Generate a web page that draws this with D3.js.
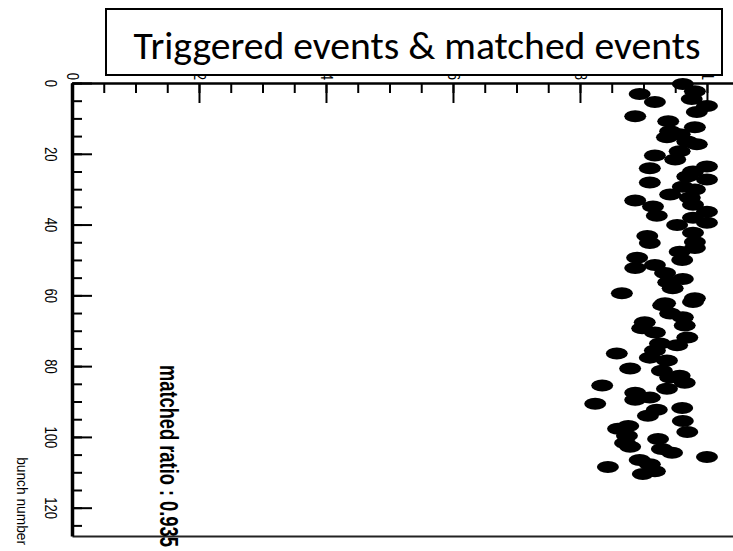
<!DOCTYPE html>
<html>
<head>
<meta charset="utf-8">
<script src="https://cdn.jsdelivr.net/npm/d3@7"></script>
<style>
  body { margin: 0; background: #fff; }
  svg { display: block; }
  .narrow { font-family: "Liberation Sans", Arial, sans-serif; }
</style>
</head>
<body>
<script>
// Bunch number and the matched ratio measured for that bunch
const bunchNumber = [
  0.3, 2.3, 3.1, 4.5, 5.4, 6.5, 8.2, 9.4, 10.8, 12.5,
  13.6, 14.5, 15.3, 16.5, 17.3, 19.3, 20.5, 21.6, 23.6, 24.1,
  25.0, 26.4, 27.3, 28.1, 29.3, 30.1, 31.5, 32.4, 33.2, 34.4,
  34.9, 36.4, 37.5, 38.1, 39.5, 40.1, 42.3, 43.2, 44.9, 45.2,
  46.6, 47.7, 49.4, 50.0, 51.4, 52.3, 53.7, 55.4, 56.3, 58.0,
  59.4, 60.8, 61.9, 62.2, 62.8, 65.1, 66.2, 67.6, 68.5, 69.3,
  70.5, 71.9, 73.6, 74.1, 75.6, 76.4, 77.6, 78.4, 80.7, 81.3,
  82.7, 83.2, 84.7, 85.5, 86.4, 87.5, 88.9, 89.5, 90.6, 91.8,
  92.3, 94.0, 95.5, 96.9, 97.7, 98.6, 99.7, 100.6, 101.7, 102.8,
  103.4, 104.5, 105.7, 106.5, 107.7, 108.5, 109.7, 110.5
];
const matchedRatio = [
  0.962, 0.981, 0.894, 0.976, 0.918, 1.000, 0.984, 0.887, 0.939, 0.981,
  0.942, 0.957, 0.937, 0.969, 0.984, 0.957, 0.918, 0.950, 1.000, 0.910,
  0.978, 0.969, 1.000, 0.910, 0.962, 0.981, 0.942, 0.973, 0.887, 0.978,
  0.915, 1.000, 0.921, 0.978, 1.000, 0.953, 0.978, 0.906, 0.981, 0.910,
  0.981, 0.957, 0.890, 0.961, 0.918, 0.887, 0.934, 0.962, 0.939, 0.946,
  0.866, 0.981, 0.978, 0.934, 0.931, 0.942, 0.962, 0.902, 0.965, 0.898,
  0.918, 0.969, 0.926, 0.953, 0.918, 0.858, 0.910, 0.937, 0.879, 0.929,
  0.957, 0.942, 0.965, 0.835, 0.937, 0.887, 0.910, 0.887, 0.824, 0.961,
  0.921, 0.907, 0.962, 0.876, 0.860, 0.969, 0.874, 0.923, 0.871, 0.879,
  0.929, 0.945, 1.000, 0.894, 0.910, 0.844, 0.918, 0.899
];
const yMajorTicks = [0, 20, 40, 60, 80, 100, 120];
const yMinorTicks = d3.range(0, 128, 5);
const xMajorTicks = [0, 0.2, 0.4, 0.6, 0.8, 1];
const xMinorTicks = d3.range(0, 1.001, 0.05);
const titleText = "Triggered events & matched events";
const ratioText = "matched ratio : 0.935";
const yTitleText = "bunch number";

const W = 733, H = 551;
const svg = d3.select("body").append("svg").attr("width", W).attr("height", H);

const x = d3.scaleLinear().domain([0, 1.041]).range([72, 733]);
const y = d3.scaleLinear().domain([0, 128]).range([83, 536]);

// fit a text element to a target length by adjusting its font size
function fit(sel, target) {
  const fs = parseFloat(sel.attr("font-size"));
  const len = sel.node().getComputedTextLength();
  sel.attr("font-size", fs * target / len);
}
// squeeze a rotated text element along its reading direction to a target length
function squeeze(sel, target, base) {
  const len = sel.node().getComputedTextLength();
  sel.attr("transform", `${base} scale(${target / len},1)`);
}

// points
svg.append("g").selectAll("ellipse")
  .data(bunchNumber.map((b, i) => ({ b, r: matchedRatio[i] })))
  .join("ellipse")
  .attr("cx", d => x(d.r))
  .attr("cy", d => y(d.b))
  .attr("rx", 11)
  .attr("ry", 6)
  .attr("fill", "#000");

// bottom frame line
svg.append("g")
  .attr("transform", `translate(0,${y(128)})`)
  .call(d3.axisBottom(x).tickValues([]).tickSizeOuter(0))
  .call(g => g.select(".domain").attr("stroke", "#222").attr("stroke-width", 2));

// top axis: minor then major ticks, pointing into the frame
svg.append("g")
  .attr("transform", `translate(0,${y(0)})`)
  .call(d3.axisTop(x).tickValues(xMinorTicks).tickSize(-10).tickSizeOuter(0).tickFormat(""))
  .call(g => g.select(".domain").attr("stroke-width", 2.5))
  .call(g => g.selectAll(".tick line").attr("stroke-width", 2));

const topAxis = svg.append("g")
  .attr("transform", `translate(0,${y(0)})`)
  .call(d3.axisTop(x).tickValues(xMajorTicks).tickSize(-20).tickSizeOuter(0).tickFormat(d3.format("")))
  .call(g => g.select(".domain").remove())
  .call(g => g.selectAll(".tick line").attr("stroke-width", 2));
topAxis.selectAll(".tick text")
  .attr("class", "narrow")
  .attr("font-size", 16)
  .attr("y", null).attr("dy", null)
  .attr("text-anchor", "end")
  .attr("dominant-baseline", "central")
  .attr("fill", "#000")
  .attr("transform", "translate(0,-3) rotate(90) scale(0.82,1)");

// left axis
svg.append("g")
  .attr("transform", `translate(${x(0)},0)`)
  .call(d3.axisLeft(y).tickValues(yMinorTicks).tickSize(-10).tickSizeOuter(0).tickFormat(""))
  .call(g => g.select(".domain").attr("stroke-width", 3.5))
  .call(g => g.selectAll(".tick line").attr("stroke-width", 2));

const leftAxis = svg.append("g")
  .attr("transform", `translate(${x(0)},0)`)
  .call(d3.axisLeft(y).tickValues(yMajorTicks).tickSize(-20).tickSizeOuter(0))
  .call(g => g.select(".domain").remove())
  .call(g => g.selectAll(".tick line").attr("stroke-width", 2));
leftAxis.selectAll(".tick text")
  .attr("class", "narrow")
  .attr("font-size", 16)
  .attr("x", null).attr("dy", null)
  .attr("text-anchor", "middle")
  .attr("dominant-baseline", "central")
  .attr("fill", "#000")
  .attr("transform", "translate(-22,0) rotate(90) scale(0.82,1)");

// y axis title
const yTitle = svg.append("text")
  .attr("class", "narrow")
  .attr("font-size", 15)
  .attr("text-anchor", "end")
  .attr("dominant-baseline", "central")
  .text(yTitleText);
squeeze(yTitle, 88, `translate(22,${y(128) + 9}) rotate(90)`);

// matched ratio annotation
const ratio = svg.append("text")
  .attr("class", "narrow")
  .attr("font-weight", "bold")
  .attr("font-size", 25)
  .attr("text-anchor", "start")
  .attr("dominant-baseline", "central")
  .text(ratioText);
squeeze(ratio, 182, "translate(169,365) rotate(90)");

// title box
svg.append("rect")
  .attr("x", 106).attr("y", 9)
  .attr("width", 616).attr("height", 66)
  .attr("fill", "#fff")
  .attr("stroke", "#000")
  .attr("stroke-width", 2);
const title = svg.append("text")
  .attr("x", 417).attr("y", 59)
  .attr("text-anchor", "middle")
  .attr("font-family", "Carlito, Calibri, Lato, 'Open Sans', sans-serif")
  .attr("font-size", 36)
  .attr("fill", "#000")
  .text(titleText);
fit(title, 567);
</script>
</body>
</html>
